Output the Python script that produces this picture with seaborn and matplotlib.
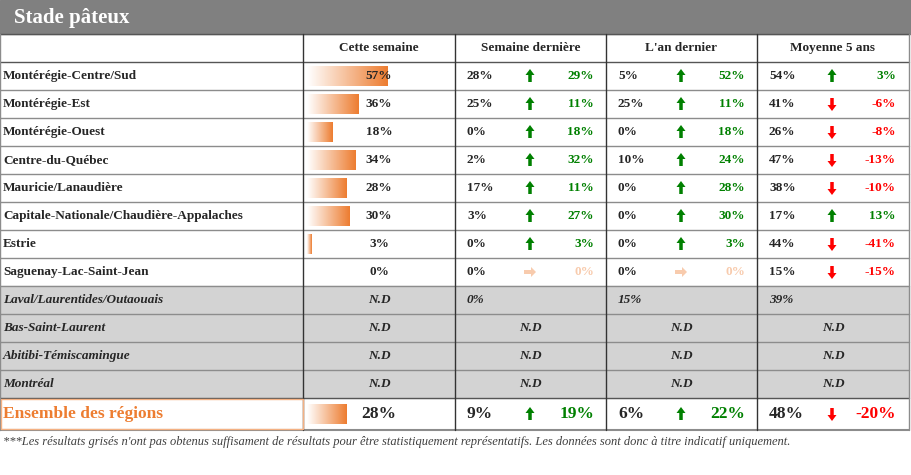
import matplotlib.pyplot as plt
import seaborn as sns
import numpy as np
from matplotlib.patches import Rectangle, FancyArrow

sns.set_style("white")
plt.rcParams['font.family'] = ['Liberation Serif', 'DejaVu Serif']

regions = ["Montérégie-Centre/Sud", "Montérégie-Est", "Montérégie-Ouest", "Centre-du-Québec",
           "Mauricie/Lanaudière", "Capitale-Nationale/Chaudière-Appalaches", "Estrie",
           "Saguenay-Lac-Saint-Jean"]
this_week = [57, 36, 18, 34, 28, 30, 3, 0]
last_week = [28, 25, 0, 2, 17, 3, 0, 0]
last_year = [5, 25, 0, 10, 0, 0, 0, 0]
avg_5y = [54, 41, 26, 47, 38, 17, 44, 15]
diff_week = [29, 11, 18, 32, 11, 27, 3, 0]
diff_year = [52, 11, 18, 24, 28, 30, 3, 0]
diff_5y = [3, -6, -8, -13, -10, 13, -41, -15]

grey_regions = ["Laval/Laurentides/Outaouais", "Bas-Saint-Laurent", "Abitibi-Témiscamingue", "Montréal"]
laval_vals = [0, 15, 39]

total = {"this": 28, "vals": [9, 6, 48], "diffs": [19, 22, -20]}

headers = ["Cette semaine", "Semaine dernière", "L'an dernier", "Moyenne 5 ans"]

fig = plt.figure(figsize=(9.12, 4.75), dpi=100)
ax = fig.add_axes([0, 0, 1, 1])
ax.set_xlim(0, 912)
ax.set_ylim(475, 0)
ax.axis("off")

GREEN, RED, PALE, ORANGE = "#008000", "#FF0000", "#F8CBAD", "#ED7D31"
cols = [0, 303, 455, 606, 757, 909]
row_h = 28
top = 62

ax.add_patch(Rectangle((0, 0), 912, 34, color="#808080"))
ax.text(14, 18, "Stade pâteux", color="white", fontsize=15, fontweight="bold", va="center")

def arrow(x, y, d):
    if d > 0:
        ax.add_patch(FancyArrow(x, y + 6, 0, -7, width=3.5, head_width=9, head_length=6,
                                length_includes_head=False, color=GREEN, lw=0))
    elif d < 0:
        ax.add_patch(FancyArrow(x, y - 6, 0, 7, width=3.5, head_width=9, head_length=6,
                                length_includes_head=False, color=RED, lw=0))
    else:
        ax.add_patch(FancyArrow(x - 6, y, 7, 0, width=4, head_width=10, head_length=5,
                                length_includes_head=False, color=PALE, lw=0))

grad = np.linspace(0, 1, 100).reshape(1, -1)
cmap = sns.blend_palette(["#FFFFFF", ORANGE], as_cmap=True)

def bar(y, v, h=20):
    w = v * 1.42
    if w > 0:
        ax.imshow(grad, cmap=cmap, aspect="auto", extent=(307, 307 + w, y + h / 2, y - h / 2), zorder=1)

def delta_group(g, y, val, d, fs=9.5):
    x0 = cols[g + 2]
    ax.text(x0 + 12, y, f"{val}%", fontsize=fs, fontweight="bold", va="center", ha="left")
    arrow(x0 + 75, y, d)
    col = GREEN if d > 0 else (RED if d < 0 else PALE)
    ax.text(x0 + 139, y, f"{d}%", fontsize=fs, fontweight="bold", va="center", ha="right", color=col)

# header
for i, h in enumerate(headers):
    ax.text((cols[i + 1] + cols[i + 2]) / 2, 48, h, fontsize=9.5, fontweight="bold", ha="center", va="center")

for i, r in enumerate(regions):
    yc = top + i * row_h + row_h / 2
    ax.text(3, yc, r, fontsize=9.5, fontweight="bold", va="center")
    bar(yc, this_week[i])
    ax.text(379, yc, f"{this_week[i]}%", fontsize=9.5, fontweight="bold", va="center", ha="center", zorder=3)
    delta_group(0, yc, last_week[i], diff_week[i])
    delta_group(1, yc, last_year[i], diff_year[i])
    delta_group(2, yc, avg_5y[i], diff_5y[i])

gtop = top + len(regions) * row_h
ax.add_patch(Rectangle((0, gtop), 909, row_h * 4, color="#D3D3D3", zorder=0))
for i, r in enumerate(grey_regions):
    yc = gtop + i * row_h + row_h / 2
    ax.text(3, yc, r, fontsize=9.5, fontweight="bold", style="italic", va="center", color="#262626")
    ax.text(379, yc, "N.D", fontsize=9.5, fontweight="bold", style="italic", va="center", ha="center", color="#262626")
    for g in range(3):
        if i == 0:
            ax.text(cols[g + 2] + 12, yc, f"{laval_vals[g]}%", fontsize=9.5, fontweight="bold",
                    style="italic", va="center", color="#262626")
        else:
            ax.text((cols[g + 2] + cols[g + 3]) / 2, yc, "N.D", fontsize=9.5, fontweight="bold",
                    style="italic", va="center", ha="center", color="#262626")

ttop = gtop + 4 * row_h
tyc = ttop + 16
ax.text(3, tyc, "Ensemble des régions", fontsize=12.5, fontweight="bold", va="center", color=ORANGE)
bar(tyc, total["this"])
ax.text(379, tyc, f"{total['this']}%", fontsize=12.5, fontweight="bold", va="center", ha="center", zorder=3)
for g in range(3):
    delta_group(g, tyc, total["vals"][g], total["diffs"][g], fs=12.5)
tbot = ttop + 32

# grid lines
for i in range(len(regions) + 5):
    y = top + i * row_h
    ax.plot([0, 909], [y, y], color="#555555" if i in (0, 12) else "#8c8c8c", lw=1, zorder=2)
ax.plot([0, 909], [34, 34], color="#555555", lw=1)
ax.plot([0, 909], [tbot, tbot], color="#8c8c8c", lw=1.5)
for i, x in enumerate(cols):
    ax.plot([x, x], [34, tbot], color="#333333" if 0 < i < 5 else "#8c8c8c", lw=1, zorder=2)
ax.add_patch(Rectangle((1, ttop + 1), 302, 30, fill=False, ec="#F4B183", lw=1, zorder=2))

ax.text(3, 442, "***Les résultats grisés n'ont pas obtenus suffisament de résultats pour être statistiquement "
        "représentatifs. Les données sont donc à titre indicatif uniquement.",
        fontsize=9, style="italic", va="center", color="#404040")

fig.savefig("out.png", dpi=100)
